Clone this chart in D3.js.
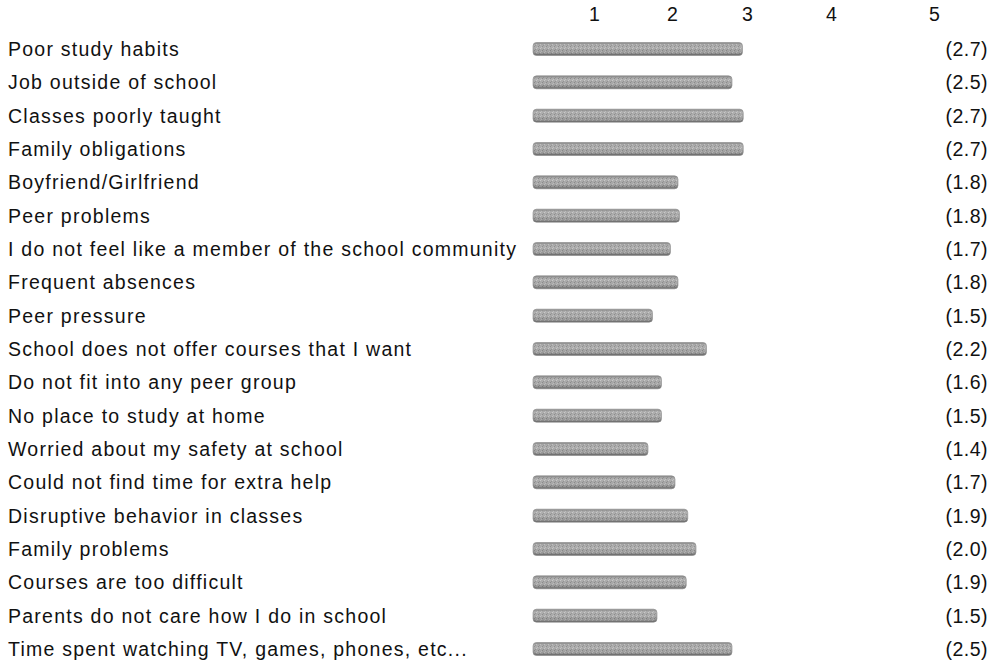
<!DOCTYPE html>
<html><head><meta charset="utf-8">
<script src="https://cdn.jsdelivr.net/npm/d3@7"></script>
<style>
html,body{margin:0;padding:0;background:#fff;}
svg text{font-family:"Liberation Sans",Arial,sans-serif;font-size:19.5px;fill:#111;letter-spacing:1.25px;}
</style></head><body>
<svg id="c" width="995" height="664"></svg>
<script>
const categories = [
  "Poor study habits",
  "Job outside of school",
  "Classes poorly taught",
  "Family obligations",
  "Boyfriend/Girlfriend",
  "Peer problems",
  "I do not feel like a member of the school community",
  "Frequent absences",
  "Peer pressure",
  "School does not offer courses that I want",
  "Do not fit into any peer group",
  "No place to study at home",
  "Worried about my safety at school",
  "Could not find time for extra help",
  "Disruptive behavior in classes",
  "Family problems",
  "Courses are too difficult",
  "Parents do not care how I do in school",
  "Time spent watching TV, games, phones, etc..."
];
const values = [2.7, 2.5, 2.7, 2.7, 1.8, 1.8, 1.7, 1.8, 1.5, 2.2, 1.6, 1.5, 1.4, 1.7, 1.9, 2.0, 1.9, 1.5, 2.5];
// bar lengths (slightly finer than the rounded labels)
const barValues = [2.70, 2.56, 2.71, 2.71, 1.84, 1.86, 1.74, 1.84, 1.50, 2.22, 1.62, 1.62, 1.44, 1.80, 1.97, 2.08, 1.95, 1.56, 2.56];
const tickLabels = [1, 2, 3, 4, 5];

const svg = d3.select("#c");

const x = d3.scaleLinear().domain([0, 5]).range([540, 915]);
const barStart = 533;
const tickX = d3.scaleLinear().domain([1, 2, 3, 4, 5]).range([595, 673, 748, 832, 935]);
const y = d3.scaleBand().domain(d3.range(categories.length)).range([34, 664]).paddingInner(0.1).paddingOuter(0);

const defs = svg.append("defs");
const g = defs.append("linearGradient").attr("id","bg").attr("x1",0).attr("y1",0).attr("x2",0).attr("y2",1);
g.append("stop").attr("offset","0%").attr("stop-color","#858585");
g.append("stop").attr("offset","25%").attr("stop-color","#b5b5b5");
g.append("stop").attr("offset","60%").attr("stop-color","#a5a5a5");
g.append("stop").attr("offset","100%").attr("stop-color","#656565");
const pat = defs.append("pattern").attr("id","dither").attr("width",4).attr("height",4).attr("patternUnits","userSpaceOnUse");
pat.append("rect").attr("width",4).attr("height",4).attr("fill","#a8a8a8");
pat.append("rect").attr("x",0).attr("y",0).attr("width",1).attr("height",1).attr("fill","#e0e0e0");
pat.append("rect").attr("x",2).attr("y",2).attr("width",1).attr("height",1).attr("fill","#6a6a6a");
pat.append("rect").attr("x",1).attr("y",3).attr("width",1).attr("height",1).attr("fill","#d0d0d0");
pat.append("rect").attr("x",3).attr("y",1).attr("width",1).attr("height",1).attr("fill","#7a7a7a");

// header tick labels
svg.append("g").selectAll("text").data(tickLabels).join("text")
  .attr("x", d => tickX(d)).attr("y", 21).attr("text-anchor","middle").text(d => d);

const rowCenter = i => y(i) + y.bandwidth()/2;

// category labels
svg.append("g").selectAll("text").data(categories).join("text")
  .attr("x", 8).attr("y", (d,i) => rowCenter(i) + 7).text(d => d);

// bars
const bars = svg.append("g");
bars.selectAll("rect.b").data(barValues).join("rect").attr("class","b")
  .attr("x", barStart).attr("y", (d,i) => rowCenter(i) - 6.5)
  .attr("width", d => x(d) - barStart).attr("height", 13)
  .attr("rx", 3.5).attr("fill", "url(#bg)").attr("stroke","#8a8a8a").attr("stroke-width",0.6);
bars.selectAll("rect.d").data(barValues).join("rect").attr("class","d")
  .attr("x", barStart+1).attr("y", (d,i) => rowCenter(i) - 5)
  .attr("width", d => x(d) - barStart - 2).attr("height", 10)
  .attr("rx", 3).attr("fill", "url(#dither)").attr("opacity",0.5);

// value labels
svg.append("g").selectAll("text").data(values).join("text")
  .attr("x", 988).attr("y", (d,i) => rowCenter(i) + 7).attr("text-anchor","end")
  .style("letter-spacing","0.5px")
  .text(d => "(" + d.toFixed(1) + ")");
</script>
</body></html>
